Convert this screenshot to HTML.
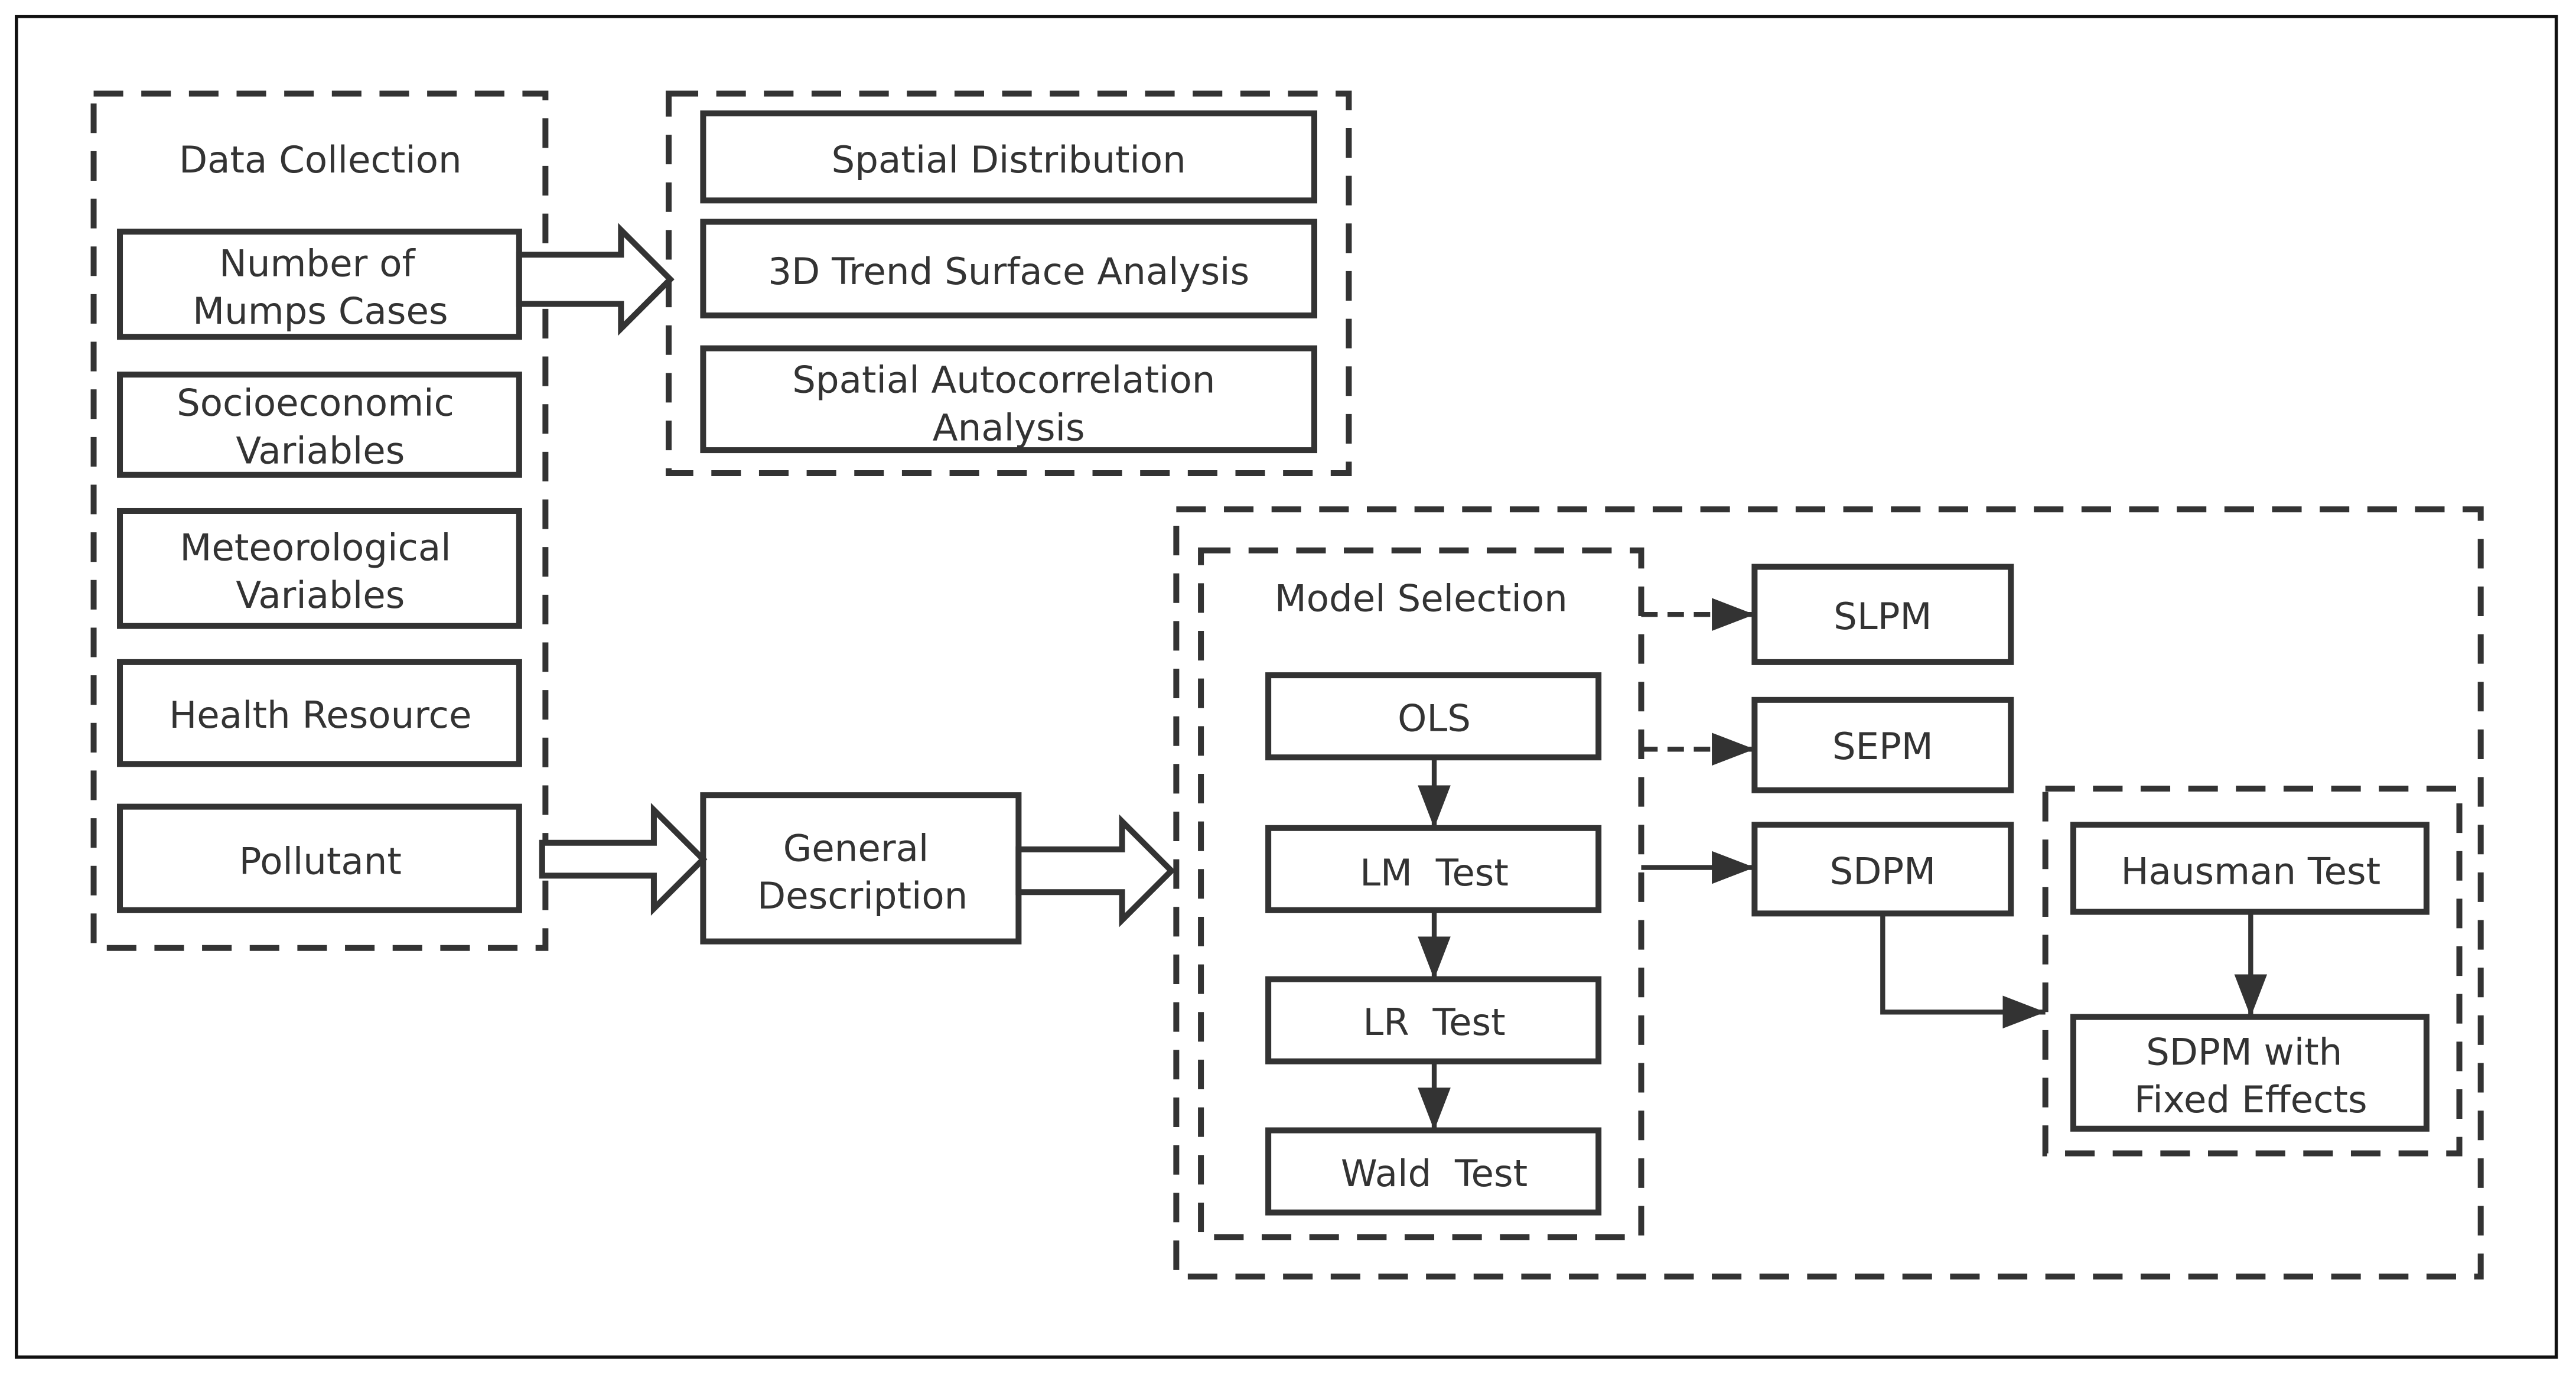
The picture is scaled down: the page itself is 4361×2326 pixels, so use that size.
<!DOCTYPE html>
<html><head><meta charset="utf-8"><style>html,body{margin:0;padding:0;background:#fff}svg{display:block}</style></head>
<body>
<svg width="4361" height="2326" viewBox="0 0 1568 836.3" xmlns="http://www.w3.org/2000/svg">
<defs>
<marker id="ah2" markerWidth="26" markerHeight="20" refX="26" refY="10" orient="auto" markerUnits="userSpaceOnUse"><path d="M0,0 L26,10 L0,20 z" fill="#333"/></marker></defs>
<rect x="10" y="10" width="1546" height="816" fill="none" stroke="#111" stroke-width="2"/>
<g fill="none" stroke="#333" stroke-width="3.6" stroke-dasharray="18 11">
<rect x="57" y="57" width="275" height="520"/>
<rect x="407" y="57" width="414" height="231"/>
<rect x="716" y="310" width="794" height="467"/>
<rect x="731" y="335" width="268" height="418"/>
<rect x="1245" y="480" width="252" height="222"/>
</g>
<g fill="#fff" stroke="#333" stroke-width="3.6">
<rect x="73" y="141" width="243" height="64"/>
<rect x="73" y="228" width="243" height="61"/>
<rect x="73" y="311" width="243" height="70"/>
<rect x="73" y="403" width="243" height="62"/>
<rect x="73" y="491" width="243" height="63"/>
<rect x="428" y="69" width="372" height="53"/>
<rect x="428" y="135" width="372" height="57"/>
<rect x="428" y="212" width="372" height="62"/>
<rect x="428" y="484" width="192" height="89"/>
<rect x="772" y="411" width="201" height="50"/>
<rect x="772" y="504" width="201" height="50"/>
<rect x="772" y="596" width="201" height="50"/>
<rect x="772" y="688" width="201" height="50"/>
<rect x="1068" y="345" width="156" height="58"/>
<rect x="1068" y="426" width="156" height="55"/>
<rect x="1068" y="502" width="156" height="54"/>
<rect x="1262" y="502" width="215" height="53"/>
<rect x="1262" y="619" width="215" height="68"/>
<path d="M316,155 H378 V140 L408,170 L378,200 V185 H316 Z"/>
<path d="M330,513 H398 V493 L428,523 L398,553 V533 H330 Z"/>
<path d="M620,517 H683 V500 L713,530 L683,560 V543 H620 Z"/>
</g>
<g fill="none" stroke="#333" stroke-width="3">
<line x1="873" y1="461" x2="873" y2="504" marker-end="url(#ah2)"/>
<line x1="873" y1="554" x2="873" y2="596" marker-end="url(#ah2)"/>
<line x1="873" y1="646" x2="873" y2="688" marker-end="url(#ah2)"/>
<line x1="1370" y1="555" x2="1370" y2="619" marker-end="url(#ah2)"/>
<line x1="999" y1="374" x2="1068" y2="374" stroke-dasharray="10 6" marker-end="url(#ah2)"/>
<line x1="999" y1="456" x2="1068" y2="456" stroke-dasharray="10 6" marker-end="url(#ah2)"/>
<line x1="999" y1="528" x2="1068" y2="528" marker-end="url(#ah2)"/>
<path d="M1146,556 V616 H1245" marker-end="url(#ah2)"/>
</g>
<g font-family="DejaVu Sans, sans-serif" font-size="22.5" fill="#333" text-anchor="middle">
<text x="195" y="105">Data Collection</text>
<text x="193" y="168">Number of</text><text x="195" y="197">Mumps Cases</text>
<text x="192" y="253">Socioeconomic</text><text x="195" y="282">Variables</text>
<text x="192" y="341">Meteorological</text><text x="195" y="370">Variables</text>
<text x="195" y="443">Health Resource</text>
<text x="195" y="532">Pollutant</text>
<text x="614" y="105">Spatial Distribution</text>
<text x="614" y="173">3D Trend Surface Analysis</text>
<text x="611" y="239">Spatial Autocorrelation</text><text x="614" y="268">Analysis</text>
<text x="521" y="524">General</text><text x="525" y="553">Description</text>
<text x="865" y="372">Model Selection</text>
<text x="873" y="445">OLS</text>
<text x="873" y="539">LM&#160; Test</text>
<text x="873" y="630">LR&#160; Test</text>
<text x="873" y="722">Wald&#160; Test</text>
<text x="1146" y="383">SLPM</text>
<text x="1146" y="462">SEPM</text>
<text x="1146" y="538">SDPM</text>
<text x="1370" y="538">Hausman Test</text>
<text x="1366" y="648">SDPM with</text><text x="1370" y="677">Fixed Effects</text>
</g>
</svg>
</body></html>
